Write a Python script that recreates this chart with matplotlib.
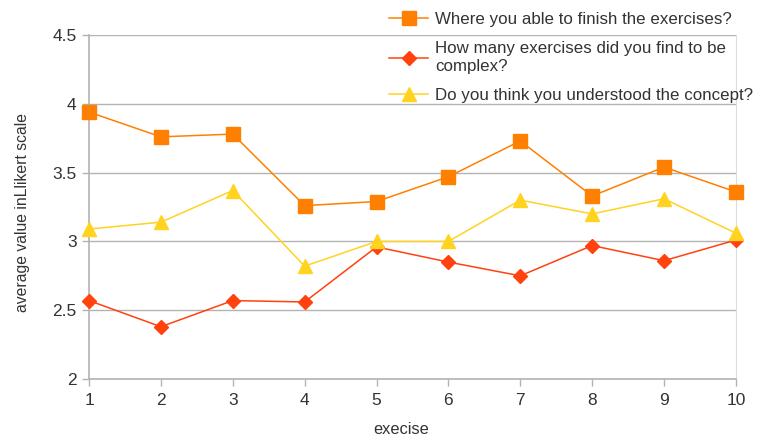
import matplotlib
matplotlib.use("Agg")
import matplotlib.pyplot as plt

plt.rcParams['font.family'] = ['Liberation Sans', 'DejaVu Sans']

exercises = [1, 2, 3, 4, 5, 6, 7, 8, 9, 10]
finish = [3.94, 3.76, 3.78, 3.26, 3.29, 3.47, 3.73, 3.33, 3.54, 3.36]
complex_ = [2.57, 2.38, 2.57, 2.56, 2.96, 2.85, 2.75, 2.97, 2.86, 3.01]
understood = [3.09, 3.14, 3.37, 2.82, 3.00, 3.00, 3.30, 3.20, 3.31, 3.06]
labels = ["Where you able to finish the exercises?",
          "How many exercises did you find to be\ncomplex?",
          "Do you think you understood the concept?"]
yticks = [2, 2.5, 3, 3.5, 4, 4.5]
ytick_labels = ["2", "2.5", "3", "3.5", "4", "4.5"]

fig = plt.figure(figsize=(7.61, 4.4), dpi=100)
ax = fig.add_axes([0.117, 0.1386, 0.850, 0.7818])

grid_c = '#b3b3b3'
l1, = ax.plot(exercises, finish, color='#ff8000', marker='s', markersize=9.5, lw=1.1,
              label=labels[0], clip_on=False, zorder=3)
l2, = ax.plot(exercises, complex_, color='#ff420e', marker='D', markersize=7.5, lw=1.1,
              label=labels[1], clip_on=False, zorder=3)
l3, = ax.plot(exercises, understood, color='#ffd320', marker='^', markersize=10, lw=1.1,
              label=labels[2], clip_on=False, zorder=3)

ax.set_xlim(1, 10)
ax.set_ylim(2, 4.5)
ax.set_xticks(exercises)
ax.set_yticks(yticks)
ax.set_yticklabels(ytick_labels)
ax.yaxis.grid(True, color=grid_c, lw=1)
ax.set_axisbelow(True)
ax.spines['top'].set_visible(False)
ax.spines['left'].set_color(grid_c)
ax.spines['bottom'].set_color(grid_c)
ax.spines['right'].set_color('#dddddd')
ax.spines['left'].set_linewidth(1.2)
ax.spines['bottom'].set_linewidth(1.2)
ax.tick_params(axis='both', colors=grid_c, labelcolor='#333333', labelsize=12.5, length=5, width=1)
ax.tick_params(axis='x', pad=5)
ax.tick_params(axis='y', pad=4)

ax.set_xlabel("execise", fontsize=11.8, color='#333333')
ax.xaxis.set_label_coords(0.482, -0.125)
ax.set_ylabel("average value inLlikert scale", fontsize=11.3, color='#333333')
ax.yaxis.set_label_coords(-0.091, 0.485)

leg = fig.legend(handles=[l1, l2, l3], loc='upper left', bbox_to_anchor=(0.494, 1.004),
                 frameon=False, fontsize=12.2, handlelength=2.3, handletextpad=0.4,
                 labelspacing=0.85, borderpad=0.3)
for t in leg.get_texts():
    t.set_color('#333333')
    t.set_linespacing(1.22)

fig.savefig("out.png", dpi=100)
